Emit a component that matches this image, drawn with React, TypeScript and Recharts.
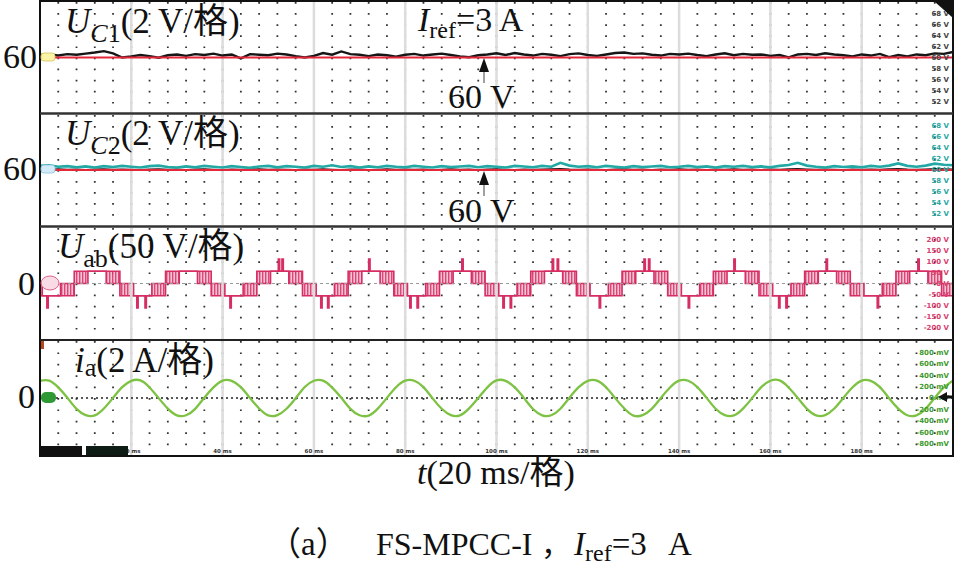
import { ComposedChart, Line, Area, XAxis, YAxis, CartesianGrid, ReferenceLine } from "recharts"

// time base of the scope (ms)
const sampleTimes = [
  0, 2, 4, 6, 8, 10, 12, 14, 16, 18, 20, 22, 24, 26, 28, 30, 32, 34, 36, 38,
  40, 42, 44, 46, 48, 50, 52, 54, 56, 58, 60, 62, 64, 66, 68, 70, 72, 74, 76, 78,
  80, 82, 84, 86, 88, 90, 92, 94, 96, 98, 100, 102, 104, 106, 108, 110, 112, 114, 116, 118,
  120, 122, 124, 126, 128, 130, 132, 134, 136, 138, 140, 142, 144, 146, 148, 150, 152, 154, 156, 158,
  160, 162, 164, 166, 168, 170, 172, 174, 176, 178, 180, 182, 184, 186, 188, 190, 192, 194, 196, 198,
  200,
]
const gridTimes = [
  0, 4, 8, 12, 16, 20, 24, 28, 32, 36, 40, 44, 48, 52, 56, 60, 64, 68, 72, 76, 80, 84, 88, 92, 96,
  100, 104, 108, 112, 116, 120, 124, 128, 132, 136, 140, 144, 148, 152, 156, 160, 164, 168, 172, 176,
  180, 184, 188, 192, 196, 200,
]
const majorTimes = [20, 40, 60, 80, 100, 120, 140, 160, 180]

// U_C1 (V)
const uc1Values = [
  60.45, 60.55, 60.35, 60.6, 60.5, 60.7, 60.9, 61.15, 60.75, 60.0,
  60.2, 60.45, 60.25, 59.95, 60.4, 60.55, 60.3, 60.6, 60.45, 60.7,
  60.35, 60.55, 59.85, 60.6, 60.5, 60.4, 60.7, 60.55, 60.25, 60.0,
  60.3, 60.8, 60.5, 61.1, 60.6, 60.5, 60.25, 60.55, 60.4, 60.15,
  60.5, 60.65, 60.35, 60.55, 60.7, 60.45, 60.2, 60.05, 60.4, 60.55,
  60.75, 60.45, 60.8, 60.55, 60.35, 60.65, 60.5, 60.25, 60.6, 60.75,
  60.45, 60.3, 60.55, 60.8, 60.9, 60.65, 60.75, 60.5, 60.35, 60.65,
  60.55, 60.7, 60.45, 60.25, 60.55, 60.75, 60.4, 60.65, 60.5, 60.55,
  60.3, 60.45, 60.0, 60.55, 60.65, 60.45, 60.75, 60.55, 60.4, 60.2,
  60.55, 60.35, 60.65, 60.05, 60.45, 60.2, 60.55, 60.4, 60.75, 60.65,
  61.0,
]

// U_C2 (V), cyan channel
const uc2Values = [
  60.75, 60.85, 60.6, 60.7, 60.5, 60.65, 60.45, 60.7, 60.55, 60.75,
  60.6, 60.45, 60.7, 60.8, 60.55, 60.45, 60.65, 60.5, 60.75, 60.6,
  60.45, 60.7, 60.55, 60.4, 60.65, 60.75, 60.5, 60.7, 60.6, 60.45,
  60.75, 60.6, 60.85, 60.55, 60.7, 60.45, 60.65, 60.5, 60.75, 60.6,
  60.5, 60.75, 60.6, 60.45, 60.7, 60.55, 60.65, 60.75, 60.5, 60.7,
  60.6, 60.45, 60.75, 60.65, 60.5, 60.75, 60.6, 61.3, 60.8, 60.6,
  60.7, 60.5, 60.75, 60.6, 60.45, 60.7, 60.55, 60.65, 60.75, 60.5,
  60.6, 60.75, 60.55, 60.65, 60.45, 60.7, 60.6, 60.75, 60.55, 60.65,
  60.5, 60.75, 60.9, 61.3, 60.8, 60.6, 60.45, 60.7, 60.55, 60.65,
  60.5, 60.75, 60.6, 60.8, 61.2, 60.75, 60.6, 60.8, 61.15, 60.95,
  60.85,
]

// black trace under U_C2 (V)
const uc2BaseValues = [
  60.1, 60.05, 60.15, 60.08, 60.12, 60.02, 60.1, 60.15, 60.05, 60.12,
  60.08, 60.0, 60.1, 60.14, 60.06, 60.12, 60.04, 60.1, 60.16, 60.08,
  60.02, 60.12, 60.06, 60.1, 60.15, 60.05, 60.1, 60.08, 60.0, 60.12,
  60.06, 60.14, 60.08, 60.04, 60.12, 60.1, 60.02, 60.08, 60.15, 60.06,
  60.12, 60.05, 60.1, 60.0, 60.08, 60.14, 60.06, 60.12, 60.04, 60.1,
  60.15, 60.08, 60.02, 60.12, 60.06, 60.1, 60.14, 60.2, 60.1, 60.05,
  60.12, 60.08, 60.02, 60.1, 60.15, 60.06, 60.12, 60.04, 60.1, 60.08,
  60.14, 60.05, 60.1, 60.02, 60.12, 60.08, 60.15, 60.06, 60.1, 60.04,
  60.12, 60.08, 60.14, 60.18, 60.1, 60.05, 60.12, 60.08, 60.02, 60.1,
  60.06, 60.12, 60.08, 60.15, 60.2, 60.1, 60.05, 60.12, 60.18, 60.14,
  60.1,
]

// i_a probe output (mV)
const iaValues = [
  302, 306, 186, 4, -190, -300, -306, -184, 2, 190,
  300, 308, 184, -2, -186, -304, -302, -190, 6, 186,
  306, 300, 190, 0, -184, -306, -300, -188, -4, 192,
  302, 304, 182, 4, -190, -302, -308, -186, 2, 188,
  304, 302, 190, -6, -188, -300, -304, -182, 0, 186,
  308, 300, 186, 2, -192, -304, -302, -188, 6, 190,
  300, 306, 188, -2, -184, -308, -300, -190, 0, 184,
  304, 302, 192, 4, -188, -300, -306, -186, -2, 190,
  302, 308, 184, 0, -190, -304, -300, -184, 4, 188,
  306, 300, 190, -4, -186, -302, -304, -190, 2, 186,
  304,
]

// U_ab: switching envelope, low / high level from each time on (V)
const uabTimes = [
  0, 0.5, 1.5, 1.8, 4.5, 7.5, 10.5, 14.5, 17.5,
  20.5, 21.2, 21.5, 23.0, 23.3, 24.5, 27.5, 30.5, 34.5, 37.5,
  40.5, 41.6, 41.9, 44.5, 47.5, 50.5, 52.2, 52.5, 53.0, 53.3, 54.5, 57.5,
  60.5, 61.5, 61.8, 63.0, 63.3, 64.5, 67.5, 70.5, 72.0, 72.3, 74.5, 77.5,
  80.5, 81.0, 81.3, 82.6, 82.9, 84.5, 87.5, 90.5, 92.4, 92.7, 94.5, 97.5,
  100.5, 101.4, 101.7, 103.0, 103.3, 104.5, 107.5, 110.5, 112.2, 112.5, 113.3, 113.6, 114.5, 117.5,
  120.5, 122.5, 122.8, 124.5, 127.5, 130.5, 132.3, 132.6, 133.3, 133.6, 134.5, 137.5,
  140.5, 142.0, 142.3, 144.5, 147.5, 150.5, 152.0, 152.3, 154.5, 157.5,
  160.5, 161.8, 162.1, 163.4, 163.7, 164.5, 167.5, 170.5, 172.2, 172.5, 174.5, 177.5,
  180.5, 183.4, 183.7, 184.5, 187.5, 190.5, 192.3, 192.6, 194.5, 197.5, 200,
]
const uabLow = [
  -55, -55, -110, -55, -55, 0, 55, 0, -55,
  -55, -110, -55, -110, -55, -55, 0, 55, 0, -55,
  -55, -110, -55, -55, 0, 55, 55, 55, 55, 55, 0, -55,
  -55, -110, -55, -110, -55, -55, 0, 55, 55, 55, 0, -55,
  -55, -110, -55, -110, -55, -55, 0, 55, 55, 55, 0, -55,
  -55, -110, -55, -110, -55, -55, 0, 55, 55, 55, 55, 55, 0, -55,
  -55, -110, -55, -55, 0, 55, 55, 55, 55, 55, 0, -55,
  -55, -110, -55, -55, 0, 55, 55, 55, 0, -55,
  -55, -110, -55, -110, -55, -55, 0, 55, 55, 55, 0, -55,
  -55, -110, -55, -55, 0, 55, 55, 55, 0, -55, -55,
]
const uabHigh = [
  0, -55, -55, -55, 0, 55, 55, 55, 0,
  -55, -55, -55, -55, -55, 0, 55, 55, 55, 0,
  -55, -55, -55, 0, 55, 55, 110, 55, 110, 55, 55, 0,
  -55, -55, -55, -55, -55, 0, 55, 55, 110, 55, 55, 0,
  -55, -55, -55, -55, -55, 0, 55, 55, 110, 55, 55, 0,
  -55, -55, -55, -55, -55, 0, 55, 55, 110, 55, 110, 55, 55, 0,
  -55, -55, -55, 0, 55, 55, 110, 55, 110, 55, 55, 0,
  -55, -55, -55, 0, 55, 55, 110, 55, 55, 0,
  -55, -55, -55, -55, -55, 0, 55, 55, 110, 55, 55, 0,
  -55, -55, -55, 0, 55, 55, 110, 55, 55, 0, 0,
]

const dcRef = 60
const voltTicks = [52, 54, 56, 58, 60, 62, 64, 66, 68]
const uabTicks = [-200, -150, -100, -50, 0, 50, 100, 150, 200]
const iaTicks = [-800, -600, -400, -200, 0, 200, 400, 600, 800]

const uc1Data = sampleTimes.map((t, i) => ({ t, uc1: uc1Values[i] }))
const uc2Data = sampleTimes.map((t, i) => ({ t, uc2: uc2Values[i], base: uc2BaseValues[i] }))
const iaData = sampleTimes.map((t, i) => ({ t, ia: iaValues[i] }))
const uabData = uabTimes.map((t, i) => ({ t, uab: [uabLow[i], uabHigh[i]] }))

const W = 913
const serif = "'Liberation Serif','Times New Roman','Noto Sans CJK SC',serif"
const tiny = "'DejaVu Sans', Arial, sans-serif"

function Scope({ top, height, data, domain, ticks, tickColor, unit, showTime, children }: any) {
  const step = height / 10
  return (
    <div style={{ position: "absolute", left: 40, top, width: W, height }}>
      <ComposedChart width={W} height={height} data={data} margin={{ top: 0, right: 0, bottom: 0, left: 0 }}>
        <defs>
          <pattern id="uabHatch" width="3" height="4" patternUnits="userSpaceOnUse">
            <rect width="3" height="4" fill="#f4bccd" />
            <rect width="1.4" height="4" fill="#d8336a" />
          </pattern>
        </defs>
        <CartesianGrid
          horizontal={false}
          stroke="#333"
          strokeWidth={1.8}
          strokeDasharray={`1.7 ${(step - 1.7).toFixed(2)}`}
        />
        {majorTimes.map((m) => (
          <ReferenceLine key={m} x={m} stroke="#dcdcdc" strokeWidth={2.5} />
        ))}
        <XAxis
          dataKey="t"
          type="number"
          domain={[0, 200]}
          ticks={gridTimes}
          interval={0}
          hide={!showTime}
          mirror
          height={1}
          axisLine={false}
          tickLine={false}
          tickSize={0}
          tickMargin={2}
          tick={{ fontSize: 5.5, fill: "#333", fontWeight: 700, fontFamily: tiny }}
          tickFormatter={(v: number) => (majorTimes.includes(v) ? `${v} ms` : "")}
          allowDataOverflow
        />
        <YAxis
          type="number"
          domain={domain}
          ticks={ticks}
          interval={0}
          orientation="right"
          mirror
          axisLine={false}
          tickLine={false}
          tickSize={0}
          tickMargin={4}
          tick={{ fontSize: 7, fill: tickColor, fontWeight: 700, fontFamily: tiny }}
          tickFormatter={(v: number) => `${v} ${unit}`}
          allowDataOverflow
        />
        {children}
      </ComposedChart>
    </div>
  )
}

export default function App() {
  return (
    <div style={{ position: "absolute", left: 0, top: 0, width: 958, height: 573, background: "#fff" }}>
      <Scope top={2} height={111} data={uc1Data} domain={[50, 70]} ticks={voltTicks} tickColor="#444" unit="V">
        <Line type="linear" dataKey="uc1" stroke="#161616" strokeWidth={2.4} dot={false} activeDot={false} isAnimationActive={false} />
        <ReferenceLine y={dcRef} stroke="#e4283a" strokeWidth={2} />
      </Scope>

      <Scope top={115} height={110} data={uc2Data} domain={[50, 70]} ticks={voltTicks} tickColor="#2aa6a2" unit="V">
        <Line type="linear" dataKey="base" stroke="#1a1a1a" strokeWidth={1.8} dot={false} activeDot={false} isAnimationActive={false} />
        <Line type="linear" dataKey="uc2" stroke="#22a9a6" strokeWidth={2.6} dot={false} activeDot={false} isAnimationActive={false} />
        <ReferenceLine y={dcRef} stroke="#e4283a" strokeWidth={2} />
      </Scope>

      <Scope top={228} height={111} data={uabData} domain={[-250, 250]} ticks={uabTicks} tickColor="#d8406e" unit="V">
        <ReferenceLine y={0} stroke="#9a9a9a" strokeDasharray="3 3" strokeWidth={1.2} />
        <Area
          type="stepAfter"
          dataKey="uab"
          stroke="#d62d63"
          strokeWidth={1.6}
          fill="url(#uabHatch)"
          fillOpacity={0.9}
          dot={false}
          activeDot={false}
          isAnimationActive={false}
        />
      </Scope>

      <Scope top={341} height={114} data={iaData} domain={[-1000, 1000]} ticks={iaTicks} tickColor="#3e9a2e" unit="mV" showTime>
        <ReferenceLine y={0} stroke="#222" strokeDasharray="2 3" strokeWidth={1.5} />
        <Line type="natural" dataKey="ia" stroke="#7dc242" strokeWidth={2.3} dot={false} activeDot={false} isAnimationActive={false} />
      </Scope>

      <svg width={958} height={573} style={{ position: "absolute", left: 0, top: 0, pointerEvents: "none" }}>
        {/* scope frame and panel separators */}
        <rect x={40} y={1} width={913} height={455} fill="none" stroke="#111" strokeWidth={2} />
        <line x1={40} x2={953} y1={113.5} y2={113.5} stroke="#333" strokeWidth={2.5} />
        <line x1={40} x2={953} y1={226.5} y2={226.5} stroke="#333" strokeWidth={2.5} />
        <line x1={40} x2={953} y1={340} y2={340} stroke="#222" strokeWidth={2} />

        {/* status bar */}
        <rect x={41} y={446} width={41} height={9} fill="#111" />
        <rect x={86} y={446} width={42} height={9} fill="#0f1c15" />

        {/* channel tags */}
        <rect x={41} y={53} width={14} height={8} rx={3} fill="#fbf3a6" stroke="#d6c45a" strokeWidth={0.8} />
        <rect x={41} y={165} width={14} height={8} rx={3} fill="#d3ebf8" stroke="#86c2e0" strokeWidth={0.8} />
        <ellipse cx={50} cy={283} rx={9} ry={7} fill="#f8dbe4" stroke="#e0608a" strokeWidth={1} />
        <rect x={41} y={392} width={15} height={11} rx={5} fill="#2f9a35" />
        <rect x={41} y={341} width={3} height={8} fill="#b4471f" />

        {/* trigger / level markers */}
        <polygon points="935,2 953,2 953,18" fill="#111" />
        <polygon points="938,397 947,392 947,402" fill="#111" />
        <line x1={946} x2={954} y1={397} y2={397} stroke="#111" strokeWidth={3} />

        {/* 60 V arrows */}
        <line x1={484} x2={484} y1={70} y2={83} stroke="#8a8a8a" strokeWidth={1.6} />
        <polygon points="484,58 479,72 489,72" fill="#111" />
        <line x1={484} x2={484} y1={184} y2={196} stroke="#8a8a8a" strokeWidth={1.6} />
        <polygon points="484,171 479,185 489,185" fill="#111" />

        <g fontFamily={serif} fill="#111">
          <text x={65} y={33} fontSize={35}>
            <tspan fontStyle="italic">U</tspan>
            <tspan fontStyle="italic" fontSize={26} dy={9}>C</tspan>
            <tspan fontSize={26}>1</tspan>
            <tspan dy={-9}>(2 V/格)</tspan>
          </text>
          <text x={418} y={31} fontSize={34}>
            <tspan fontStyle="italic">I</tspan>
            <tspan fontSize={24} dy={7}>ref</tspan>
            <tspan dy={-7}>=3 A</tspan>
          </text>
          <text x={448} y={108} fontSize={34}>60 V</text>

          <text x={65} y={145} fontSize={35}>
            <tspan fontStyle="italic">U</tspan>
            <tspan fontStyle="italic" fontSize={26} dy={9}>C</tspan>
            <tspan fontSize={26}>2</tspan>
            <tspan dy={-9}>(2 V/格)</tspan>
          </text>
          <text x={448} y={222} fontSize={34}>60 V</text>

          <text x={58} y={258} fontSize={35}>
            <tspan fontStyle="italic">U</tspan>
            <tspan fontSize={26} dy={9}>ab</tspan>
            <tspan dy={-9}>(50 V/格)</tspan>
          </text>

          <text x={75} y={372} fontSize={35}>
            <tspan fontStyle="italic">i</tspan>
            <tspan fontSize={26} dy={4}>a</tspan>
            <tspan dy={-4}>(2 A/格)</tspan>
          </text>

          <text x={37} y={68} fontSize={34} textAnchor="end">60</text>
          <text x={37} y={180} fontSize={34} textAnchor="end">60</text>
          <text x={35} y={295} fontSize={34} textAnchor="end">0</text>
          <text x={35} y={408} fontSize={34} textAnchor="end">0</text>

          <text x={417} y={484} fontSize={34}>
            <tspan fontStyle="italic">t</tspan>
            <tspan>(20 ms/格)</tspan>
          </text>

          <text x={268} y={555} fontSize={33}>（a）</text>
          <text x={376} y={555} fontSize={32}>FS-MPCC-I</text>
          <text x={541} y={555} fontSize={30}>，</text>
          <text x={574} y={555} fontSize={33}>
            <tspan fontStyle="italic">I</tspan>
            <tspan fontSize={24} dy={6}>ref</tspan>
            <tspan dy={-6}>=3</tspan>
          </text>
          <text x={668} y={555} fontSize={33}>A</text>
        </g>
      </svg>
    </div>
  )
}
